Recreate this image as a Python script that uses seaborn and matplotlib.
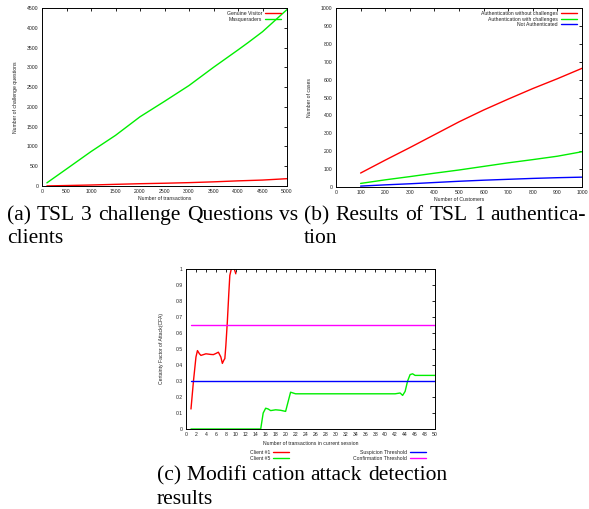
import matplotlib
matplotlib.use("Agg")
import matplotlib.pyplot as plt
import seaborn as sns
import numpy as np
from matplotlib.ticker import MultipleLocator, FuncFormatter

# ---- data ----
# (a) TSL 3 challenge questions vs clients
trans_x = [100, 500, 1000, 1500, 2000, 2500, 3000, 3500, 4000, 4200, 4500, 5000]
genuine_y = [2, 12, 25, 42, 58, 70, 85, 105, 130, 138, 150, 185]
masq_y = [80, 430, 870, 1280, 1750, 2140, 2540, 3000, 3440, 3620, 3900, 4460]

# (b) results of TSL 1 authentication
cust_x = [100, 200, 300, 400, 500, 600, 700, 800, 900, 1000]
no_chal_y = [78, 150, 220, 292, 364, 430, 491, 550, 605, 663]
with_chal_y = [20, 40, 58, 77, 95, 115, 135, 153, 172, 197]
not_auth_y = [5, 12, 18, 25, 32, 38, 43, 48, 52, 55]

# (c) modification attack detection
c1_x = [1, 1.5, 2, 2.3, 2.7, 3, 3.5, 4, 4.5, 5, 5.5, 6, 6.5, 7, 7.3, 7.6, 7.8, 8, 8.3, 8.6, 8.8, 9.1, 9.4, 9.7, 10]
c1_y = [0.125, 0.30, 0.45, 0.49, 0.47, 0.46, 0.465, 0.47, 0.468, 0.466, 0.465, 0.472, 0.48, 0.45,
        0.41, 0.43, 0.44, 0.52, 0.67, 0.85, 0.96, 1.0, 1.01, 1.0, 0.97]
c5_x = [1, 15, 15.5, 16, 16.5, 17, 18, 19, 20, 20.5, 21, 21.5, 22, 30, 42, 43, 43.5, 44, 44.5, 45, 45.5, 46, 50]
c5_y = [0, 0, 0.10, 0.13, 0.125, 0.115, 0.12, 0.117, 0.11, 0.17, 0.23, 0.225, 0.22, 0.22, 0.22, 0.225,
        0.21, 0.235, 0.30, 0.34, 0.345, 0.335, 0.335]
thr_x = [1, 50]
suspicion_y = [0.3, 0.3]
confirm_y = [0.65, 0.65]

RED, GREEN, BLUE, MAG = "#ff0000", "#00ee00", "#0000ff", "#ff00ff"
SMALL = 3.7

sns.set_style("white")
plt.rcParams["font.family"] = ["Liberation Sans", "DejaVu Sans"]
plt.rcParams.update({
    "xtick.direction": "in", "ytick.direction": "in",
    "xtick.top": True, "ytick.right": True,
    "xtick.major.size": 2.4, "ytick.major.size": 2.4,
    "xtick.major.width": 0.6, "ytick.major.width": 0.6,
    "xtick.major.pad": 2, "ytick.major.pad": 2.5,
    "axes.linewidth": 0.7, "axes.edgecolor": "black",
    "xtick.color": "black", "ytick.color": "black",
    "xtick.labelcolor": "#222222", "ytick.labelcolor": "#222222",
    "xtick.labelsize": SMALL, "ytick.labelsize": SMALL,
})

W, H = 589, 509
fig = plt.figure(figsize=(W / 100, H / 100), dpi=100)


def px_axes(l, t, r, b):
    return fig.add_axes([l / W, 1 - b / H, (r - l) / W, (b - t) / H])


def style(ax, xl, yl, xlab_y, ylab_x):
    ax.set_xlabel(xl, fontsize=SMALL, color="#222222")
    ax.set_ylabel(yl, fontsize=SMALL, color="#222222")
    ax.xaxis.set_label_coords(0.5, xlab_y)
    ax.yaxis.set_label_coords(ylab_x, 0.5)
    for s in ax.spines.values():
        s.set_visible(True)


def legend(ax, anchor, handles=None, labels=None):
    if handles is None:
        handles, labels = ax.get_legend_handles_labels()
    return ax.legend(handles, labels, markerfirst=False, frameon=False, loc="upper right",
                     bbox_to_anchor=(anchor[0] / W, 1 - anchor[1] / H), bbox_transform=fig.transFigure,
                     fontsize=SMALL, handlelength=3.2, handletextpad=0.5, labelspacing=0.12,
                     borderpad=0, borderaxespad=0, labelcolor="#222222")


# (a)
ax1 = px_axes(42, 8, 287, 186)
sns.lineplot(x=trans_x, y=genuine_y, ax=ax1, color=RED, lw=1.0, label="Genuine Visitor")
sns.lineplot(x=trans_x, y=masq_y, ax=ax1, color=GREEN, lw=1.0, label="Masqueraders")
ax1.set_xlim(0, 5000)
ax1.set_ylim(0, 4500)
ax1.xaxis.set_major_locator(MultipleLocator(500))
ax1.yaxis.set_major_locator(MultipleLocator(500))
style(ax1, "Number of transactions", "Number of challenge questions", -0.055, -0.10)
legend(ax1, (281, 11))

# (b)
ax2 = px_axes(336, 8, 582, 187)
sns.lineplot(x=cust_x, y=no_chal_y, ax=ax2, color=RED, lw=1.0, label="Authentication without challenges")
sns.lineplot(x=cust_x, y=with_chal_y, ax=ax2, color=GREEN, lw=1.0, label="Authentication with challenges")
sns.lineplot(x=cust_x, y=not_auth_y, ax=ax2, color=BLUE, lw=1.0, label="Not Authenticated")
ax2.set_xlim(0, 1000)
ax2.set_ylim(0, 1000)
ax2.xaxis.set_major_locator(MultipleLocator(100))
ax2.yaxis.set_major_locator(MultipleLocator(100))
style(ax2, "Number of Customers", "Number of cases", -0.055, -0.097)
legend(ax2, (577, 11))

# (c)
ax3 = px_axes(186, 269, 435, 429)
sns.lineplot(x=c1_x, y=c1_y, ax=ax3, color=RED, lw=1.0, label="Client #1")
sns.lineplot(x=c5_x, y=c5_y, ax=ax3, color=GREEN, lw=1.0, label="Client #5")
sns.lineplot(x=thr_x, y=suspicion_y, ax=ax3, color=BLUE, lw=1.0, label="Suspicion Threshold")
sns.lineplot(x=thr_x, y=confirm_y, ax=ax3, color=MAG, lw=1.0, label="Confirmation Threshold")
ax3.set_xlim(0, 50)
ax3.set_ylim(0, 1)
ax3.xaxis.set_major_locator(MultipleLocator(2))
ax3.yaxis.set_major_locator(MultipleLocator(0.1))
ax3.yaxis.set_major_formatter(FuncFormatter(lambda v, p: f"{v:.1f}".rstrip("0").rstrip(".")))
style(ax3, "Number of transactions in current session", "Certainty Factor of Attack(CFA)", -0.075, -0.088)
h, l = ax3.get_legend_handles_labels()
leg_left = legend(ax3, (289, 450), h[:2], l[:2])
ax3.add_artist(leg_left)
legend(ax3, (426, 450), h[2:], l[2:])

# captions (justified lines in a serif face)
CAP = dict(fontsize=15.5, family=["Liberation Serif", "DejaVu Serif"], color="black", va="baseline")
fig.canvas.draw()
renderer = fig.canvas.get_renderer()


def justified(words, x0, x1, y):
    texts = [fig.text(0, 0, w, transform=None, **CAP) for w in words]
    widths = [t.get_window_extent(renderer).width for t in texts]
    gap = (x1 - x0 - sum(widths)) / max(len(words) - 1, 1)
    x = x0
    for t, w in zip(texts, widths):
        t.set_transform(fig.transFigure)
        t.set_position((x / W, 1 - y / H))
        x += w + gap


def plain(s, x, y):
    fig.text(x / W, 1 - y / H, s, **CAP)


justified(["(a)", "TSL", "3", "challenge", "Questions", "vs"], 7, 298, 220)
plain("clients", 7, 243)
justified(["(b)", "Results", "of", "TSL", "1", "authentica-"], 304, 586, 220)
plain("tion", 304, 243)
justified(["(c)", "Modifi cation", "attack", "detection"], 157, 447, 480)
plain("results", 157, 504)

fig.savefig("out.png", dpi=100)
